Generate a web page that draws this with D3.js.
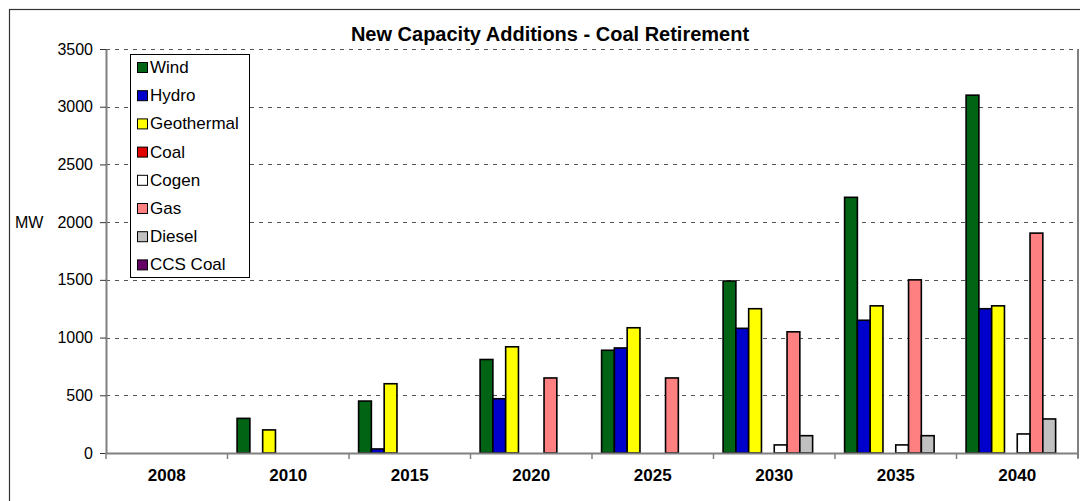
<!DOCTYPE html>
<html>
<head>
<meta charset="utf-8">
<script src="https://cdn.jsdelivr.net/npm/d3@7"></script>
<style>
  html, body { margin: 0; padding: 0; background: #fff; }
  svg { display: block; font-family: Arial, "Liberation Sans", sans-serif; }
</style>
</head>
<body>
<svg id="chart" width="1080" height="501"></svg>
<script>
// Years on the category axis
const years = ["2008", "2010", "2015", "2020", "2025", "2030", "2035", "2040"];

// Technology series, in legend and bar order
const seriesNames = ["Wind", "Hydro", "Geothermal", "Coal", "Cogen", "Gas", "Diesel", "CCS Coal"];
const seriesColors = ["#006414", "#0000CC", "#FFFF00", "#E00000", "#FFFFFF", "#FF8080", "#C0C0C0", "#660066"];

// New capacity (MW) per year for each technology
const wind       = [0, 300, 450, 810, 890, 1490, 2215, 3100];
const hydro      = [0, 0, 35, 470, 910, 1080, 1150, 1250];
const geothermal = [0, 200, 600, 920, 1085, 1250, 1275, 1275];
const coal       = [0, 0, 0, 0, 0, 0, 0, 0];
const cogen      = [0, 0, 0, 0, 0, 70, 70, 165];
const gas        = [0, 0, 0, 650, 650, 1050, 1500, 1905];
const diesel     = [0, 0, 0, 0, 0, 150, 150, 295];
const ccsCoal    = [0, 0, 0, 0, 0, 0, 0, 0];
const seriesValues = [wind, hydro, geothermal, coal, cogen, gas, diesel, ccsCoal];

// Value axis ticks
const yTicks = [0, 500, 1000, 1500, 2000, 2500, 3000, 3500];

const svg = d3.select("#chart");
const FONT = "Arial, 'Liberation Sans', sans-serif";

const plot = { left: 106, right: 1078, top: 49, bottom: 453 };

// Outer chart frame
svg.append("rect")
  .attr("x", 9.5).attr("y", 9.5)
  .attr("width", 1100).attr("height", 520)
  .attr("fill", "none").attr("stroke", "#333").attr("stroke-width", 1.2);

// Title
svg.append("text")
  .attr("x", 550).attr("y", 41)
  .attr("text-anchor", "middle")
  .attr("font-size", 20).attr("font-weight", "bold")
  .text("New Capacity Additions - Coal Retirement");

const x0 = d3.scaleBand().domain(years).range([plot.left, plot.right]).paddingInner(0).paddingOuter(0);
const x1 = d3.scaleBand().domain(seriesNames).range([0, x0.bandwidth()]).paddingOuter(0.75).paddingInner(0);
const y = d3.scaleLinear().domain([0, 3500]).range([plot.bottom, plot.top]);

// Dashed gridlines
svg.append("g")
  .selectAll("line")
  .data(yTicks.filter(d => d > 0))
  .join("line")
  .attr("x1", plot.left).attr("x2", plot.right)
  .attr("y1", d => Math.round(y(d)) + 0.5).attr("y2", d => Math.round(y(d)) + 0.5)
  .attr("stroke", "#555").attr("stroke-width", 1)
  .attr("stroke-dasharray", "4,5");

// Bars
const groups = svg.append("g")
  .selectAll("g")
  .data(years)
  .join("g")
  .attr("transform", d => `translate(${x0(d)},0)`);

groups.selectAll("rect")
  .data((yr, i) => seriesNames.map((s, k) => ({ s, k, v: seriesValues[k][i] })).filter(d => d.v > 0))
  .join("rect")
  .attr("x", d => x1(d.s))
  .attr("width", x1.bandwidth())
  .attr("y", d => y(d.v))
  .attr("height", d => y(0) - y(d.v))
  .attr("fill", d => seriesColors[d.k])
  .attr("stroke", "#000").attr("stroke-width", 1.6);

// Value axis
const yAxis = d3.axisLeft(y).tickValues(yTicks).tickFormat(d3.format("d"))
  .tickSize(6).tickSizeOuter(0).tickPadding(7);
const gy = svg.append("g").attr("transform", `translate(${plot.left},0)`).call(yAxis);
gy.select(".domain").attr("stroke", "#808080").attr("stroke-width", 2);
gy.selectAll(".tick line").attr("stroke", "#333").attr("stroke-width", 1);
gy.selectAll(".tick text").attr("font-size", 16).attr("fill", "#000").attr("font-family", FONT);

// Right edge of the plot area
svg.append("line")
  .attr("x1", plot.right).attr("x2", plot.right)
  .attr("y1", plot.top).attr("y2", plot.bottom + 5)
  .attr("stroke", "#808080").attr("stroke-width", 2);

// Category axis
const xAxis = d3.axisBottom(x0).tickSize(0).tickPadding(16);
const gx = svg.append("g").attr("transform", `translate(0,${plot.bottom})`).call(xAxis);
gx.select(".domain").attr("stroke", "#808080").attr("stroke-width", 2);
gx.selectAll(".tick text").attr("font-size", 17).attr("font-weight", "bold").attr("fill", "#000")
  .attr("font-family", FONT);

// Tick marks between categories
svg.append("g")
  .selectAll("line")
  .data(years.map(d => x0(d)).concat([plot.right]))
  .join("line")
  .attr("x1", d => d).attr("x2", d => d)
  .attr("y1", plot.bottom).attr("y2", plot.bottom + 6)
  .attr("stroke", "#808080").attr("stroke-width", 1.5);

// Axis unit label
svg.append("text")
  .attr("x", 15).attr("y", 228)
  .attr("font-size", 16)
  .text("MW");

// Legend
const legend = svg.append("g").attr("transform", "translate(130,54)");
legend.append("rect")
  .attr("x", 0.5).attr("y", 0.5)
  .attr("width", 119).attr("height", 223)
  .attr("fill", "#fff").attr("stroke", "#000").attr("stroke-width", 1);

const items = legend.selectAll("g.item")
  .data(seriesNames)
  .join("g")
  .attr("class", "item")
  .attr("transform", (d, i) => `translate(0,${12 + i * 28.2})`);

items.append("rect")
  .attr("x", 7.5).attr("y", -3.5)
  .attr("width", 10).attr("height", 10)
  .attr("fill", (d, i) => seriesColors[i])
  .attr("stroke", "#000").attr("stroke-width", 1);

items.append("text")
  .attr("x", 20).attr("y", 7)
  .attr("font-size", 17)
  .text(d => d);
</script>
</body>
</html>
